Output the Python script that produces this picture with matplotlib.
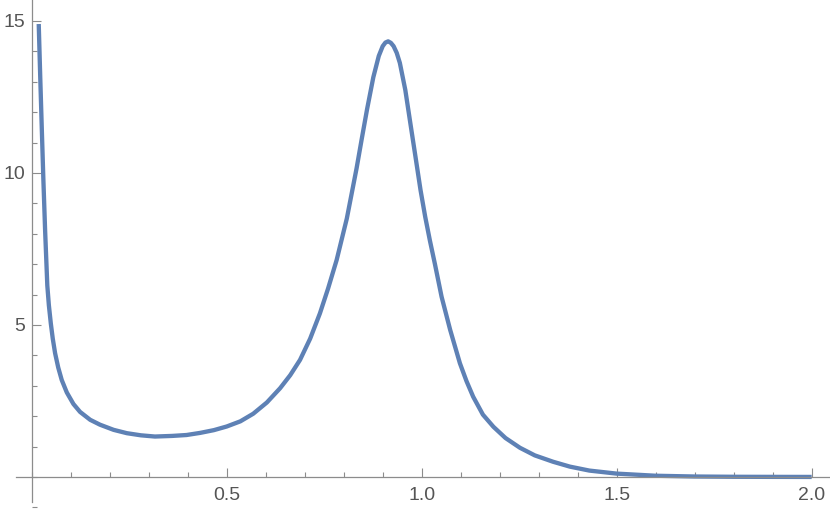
import matplotlib.pyplot as plt
from matplotlib.ticker import MultipleLocator, FixedLocator

# values
x_vals = [0.018, 0.022, 0.026, 0.030, 0.0344, 0.040, 0.044, 0.049, 0.054, 0.060,
          0.068, 0.077, 0.090, 0.107, 0.124, 0.150, 0.175, 0.210, 0.244, 0.280,
          0.316, 0.360, 0.397, 0.432, 0.467, 0.500, 0.535, 0.568, 0.603, 0.637,
          0.663, 0.688, 0.714, 0.739, 0.760, 0.782, 0.808, 0.833, 0.846, 0.860,
          0.876, 0.890, 0.900, 0.907, 0.914, 0.921, 0.928, 0.936, 0.944, 0.958,
          0.971, 0.984, 0.997, 1.009, 1.021, 1.034, 1.051, 1.073, 1.098, 1.115,
          1.132, 1.157, 1.184, 1.215, 1.252, 1.290, 1.337, 1.380, 1.430, 1.500,
          1.600, 1.700, 1.800, 1.900, 2.000]
y_vals = [14.9, 13.1, 11.4, 9.75, 8.1, 6.3, 5.65, 5.05, 4.55, 4.07,
          3.6, 3.19, 2.78, 2.40, 2.14, 1.88, 1.72, 1.55, 1.44, 1.37,
          1.33, 1.35, 1.38, 1.45, 1.54, 1.66, 1.83, 2.08, 2.45, 2.92,
          3.35, 3.85, 4.55, 5.38, 6.2, 7.14, 8.5, 10.15, 11.1, 12.1,
          13.15, 13.85, 14.17, 14.29, 14.33, 14.28, 14.17, 13.95, 13.62, 12.73,
          11.63, 10.54, 9.44, 8.56, 7.78, 7.0, 5.93, 4.84, 3.74, 3.15,
          2.64, 2.05, 1.65, 1.28, 0.96, 0.71, 0.50, 0.34, 0.21, 0.11,
          0.04, 0.015, 0.006, 0.003, 0.001]

x_major = [0.5, 1.0, 1.5, 2.0]
x_labels = ["0.5", "1.0", "1.5", "2.0"]
y_major = [5, 10, 15]
y_labels = ["5", "10", "15"]

plt.rcParams["font.family"] = ["Liberation Sans", "DejaVu Sans"]

fig = plt.figure(figsize=(8.3, 5.17), dpi=100)
ax = fig.add_axes([0, 0, 1, 1])

ax.plot(x_vals, y_vals, color="#5E81B5", lw=3.1, solid_capstyle="butt",
        solid_joinstyle="round")

ax.set_xlim(-0.0813, 2.047)
ax.set_ylim(-1.317, 15.69)

for side in ("top", "right"):
    ax.spines[side].set_visible(False)
axis_color = "#8c8c8c"
ax.spines["bottom"].set_position(("data", 0))
ax.spines["left"].set_position(("data", 0))
ax.spines["bottom"].set_bounds(-0.04, 2.09)
ax.spines["left"].set_bounds(-0.82, 15.69)
for side in ("bottom", "left"):
    ax.spines[side].set_color(axis_color)
    ax.spines[side].set_linewidth(0.9)

ax.xaxis.set_major_locator(FixedLocator(x_major))
ax.set_xticklabels(x_labels)
ax.xaxis.set_minor_locator(MultipleLocator(0.1))
ax.yaxis.set_major_locator(FixedLocator(y_major))
ax.set_yticklabels(y_labels)
ax.yaxis.set_minor_locator(MultipleLocator(1))

ax.tick_params(which="both", direction="in", color=axis_color, width=0.8,
               labelcolor="#555555", labelsize=14)
ax.tick_params(which="major", length=6.5)
ax.tick_params(which="minor", length=3.3)
ax.tick_params(axis="x", which="major", pad=7)
ax.tick_params(axis="y", which="major", pad=5)

fig.savefig("out.png", dpi=100)
